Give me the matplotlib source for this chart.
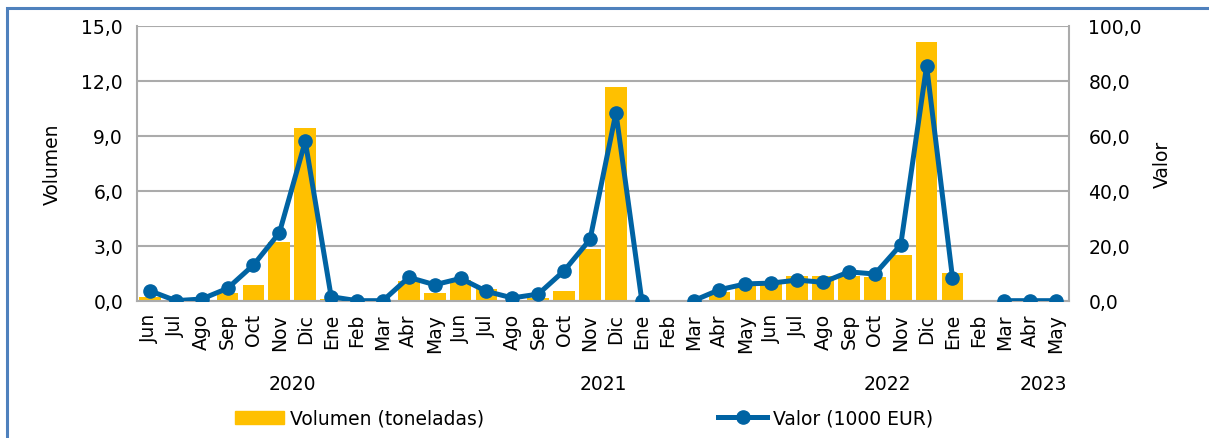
import numpy as np
import matplotlib
matplotlib.use("Agg")
import matplotlib.pyplot as plt
from matplotlib.ticker import FuncFormatter, MultipleLocator
from matplotlib.patches import Rectangle
from matplotlib.lines import Line2D
from matplotlib.transforms import blended_transform_factory

# Months Jun 2020 - May 2023
months = ["Jun", "Jul", "Ago", "Sep", "Oct", "Nov", "Dic",
          "Ene", "Feb", "Mar", "Abr", "May", "Jun", "Jul", "Ago", "Sep", "Oct", "Nov", "Dic",
          "Ene", "Feb", "Mar", "Abr", "May", "Jun", "Jul", "Ago", "Sep", "Oct", "Nov", "Dic",
          "Ene", "Feb", "Mar", "Abr", "May"]

# Volume (tonnes), left axis
volumen = [0.2, 0.0, 0.05, 0.4, 0.87, 3.2, 9.44,
           0.1, 0.0, 0.0, 1.07, 0.42, 1.13, 0.64, 0.05, 0.13, 0.53, 2.8, 11.68,
           0.0, 0.0, 0.0, 0.5, 0.9, 0.97, 1.37, 1.35, 1.33, 1.28, 2.51, 14.13,
           1.51, 0.0, 0.0, 0.0, 0.0]

# Value (1000 EUR), right axis; nan = no data
valor = [3.6, 0.0, 0.6, 4.5, 13.0, 24.7, 58.0,
         1.45, 0.0, 0.0, 8.5, 5.8, 8.1, 3.4, 1.0, 2.4, 10.9, 22.3, 68.4,
         0.0, np.nan, 0.0, 4.0, 6.1, 6.4, 7.5, 6.7, 10.5, 9.7, 20.3, 85.5,
         8.3, np.nan, 0.0, 0.0, 0.0]

# Year labels and the category span they sit under
years = ["2020", "2021", "2022", "2023"]
year_spans = [(0, 11), (12, 23), (24, 33), (34, 35)]

bar_color = "#FFC000"
line_color = "#0063A3"
grid_color = "#ABABAB"

plt.rcParams["font.family"] = ["DejaVu Sans"]
fs = 13.5

fig = plt.figure(figsize=(12.09, 4.39), dpi=100)
ax = fig.add_axes([0.1133, 0.3128, 0.7709, 0.6257])
x = np.arange(len(months))

ax.bar(x, volumen, width=0.84, color=bar_color, zorder=2)
ax.set_xlim(-0.5, len(months) - 0.5)
ax.set_ylim(0, 15)
ax.yaxis.set_major_locator(MultipleLocator(3))
comma = FuncFormatter(lambda v, p: f"{v:.1f}".replace(".", ","))
ax.yaxis.set_major_formatter(comma)
ax.grid(axis="y", color=grid_color, lw=1.5, zorder=0)
ax.set_axisbelow(True)
ax.set_xticks(x)
ax.set_xticklabels(months, rotation=90, fontsize=fs)
ax.tick_params(axis="x", length=0, pad=9)
ax.tick_params(axis="y", length=0, pad=10, labelsize=fs)
for s in ["left", "right", "bottom"]:
    ax.spines[s].set_color(grid_color)
    ax.spines[s].set_linewidth(1.5)
ax.spines["top"].set_visible(False)
ax.set_ylabel("Volumen", fontsize=fs, labelpad=14)

ax2 = ax.twinx()
ax2.plot(x, valor, color=line_color, lw=3.6, marker="o", markersize=9.5, zorder=3)
ax2.set_ylim(0, 100)
ax2.yaxis.set_major_locator(MultipleLocator(20))
ax2.yaxis.set_major_formatter(comma)
ax2.tick_params(axis="y", length=0, pad=14, labelsize=fs)
for s in ax2.spines.values():
    s.set_visible(False)
ax2.set_ylabel("Valor", fontsize=fs, labelpad=8)

# year labels under the month labels
trans = blended_transform_factory(ax.transData, ax.transAxes)
for yr, (a, b) in zip(years, year_spans):
    ax.text((a + b) / 2, -0.30, yr, transform=trans, ha="center", va="center", fontsize=fs)

handles = [Rectangle((0, 0), 1, 1, color=bar_color),
           Line2D([], [], color=line_color, lw=3.6, marker="o", markersize=9.5)]
fig.legend(handles, ["Volumen (toneladas)", "Valor (1000 EUR)"], loc="center",
           bbox_to_anchor=(0.483, 0.045), ncol=2, frameon=False, fontsize=fs,
           handlelength=2.6, handletextpad=0.3, columnspacing=12.5)

# outer frame (cut off at right and bottom)
fig.patches.append(Rectangle((7 / 1209, -0.1), 1.2, (439 - 9) / 439 + 0.1,
                             transform=fig.transFigure, fill=False,
                             edgecolor="#4F81BD", lw=2.2))

fig.savefig("out.png", dpi=100)
